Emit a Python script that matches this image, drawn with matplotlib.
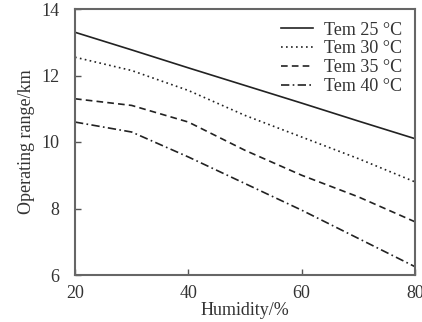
import matplotlib
matplotlib.use("Agg")
import matplotlib.pyplot as plt

humidity = [20, 30, 40, 50, 60, 70, 80]
tem25 = [13.3, 12.77, 12.23, 11.7, 11.17, 10.63, 10.1]
tem30 = [12.55, 12.15, 11.55, 10.8, 10.15, 9.5, 8.8]
tem35 = [11.3, 11.1, 10.6, 9.75, 9.0, 8.35, 7.6]
tem40 = [10.6, 10.3, 9.55, 8.75, 7.95, 7.1, 6.25]
labels = ["Tem 25 °C", "Tem 30 °C", "Tem 35 °C", "Tem 40 °C"]
xticks = [20, 40, 60, 80]
yticks = [6, 8, 10, 12, 14]

plt.rcParams['font.family'] = ['Liberation Serif', 'DejaVu Serif']
fig = plt.figure(figsize=(4.22, 3.22), dpi=100)
ax = fig.add_axes([75/422, 1-275/322, (415-75)/422, (275-9)/322])

c = '#222222'
ax.plot(humidity, tem25, color=c, lw=1.2, ls='-', label=labels[0])
ax.plot(humidity, tem30, color=c, lw=1.2, ls=(0, (1, 2)), label=labels[1])
ax.plot(humidity, tem35, color=c, lw=1.2, ls=(0, (4, 2.5)), label=labels[2])
ax.plot(humidity, tem40, color=c, lw=1.2, ls=(0, (5, 2, 1, 2)), label=labels[3])

ax.set_xlim(20, 80)
ax.set_ylim(6, 14)
ax.set_xticks(xticks)
ax.set_yticks(yticks)
ax.tick_params(direction='in', length=4, width=1, colors='#555555', labelsize=13,
               labelcolor='#333333')
ax.tick_params(axis='x', pad=7)
ax.tick_params(axis='y', pad=11)
for s in ax.spines.values():
    s.set_color('#666666')
    s.set_linewidth(1.5)
ax.set_xlabel("Humidity/%", fontsize=13, color='#333333', labelpad=0)
ax.set_ylabel("Operating range/km", fontsize=13, color='#333333', labelpad=5)
leg = ax.legend(loc='upper right', frameon=False, fontsize=13, handlelength=1.75,
                labelspacing=0.1, borderaxespad=0.3, handletextpad=0.65,
                bbox_to_anchor=(1.0, 1.0))
for t in leg.get_texts():
    t.set_color('#333333')
fig.savefig("out.png", dpi=100)
